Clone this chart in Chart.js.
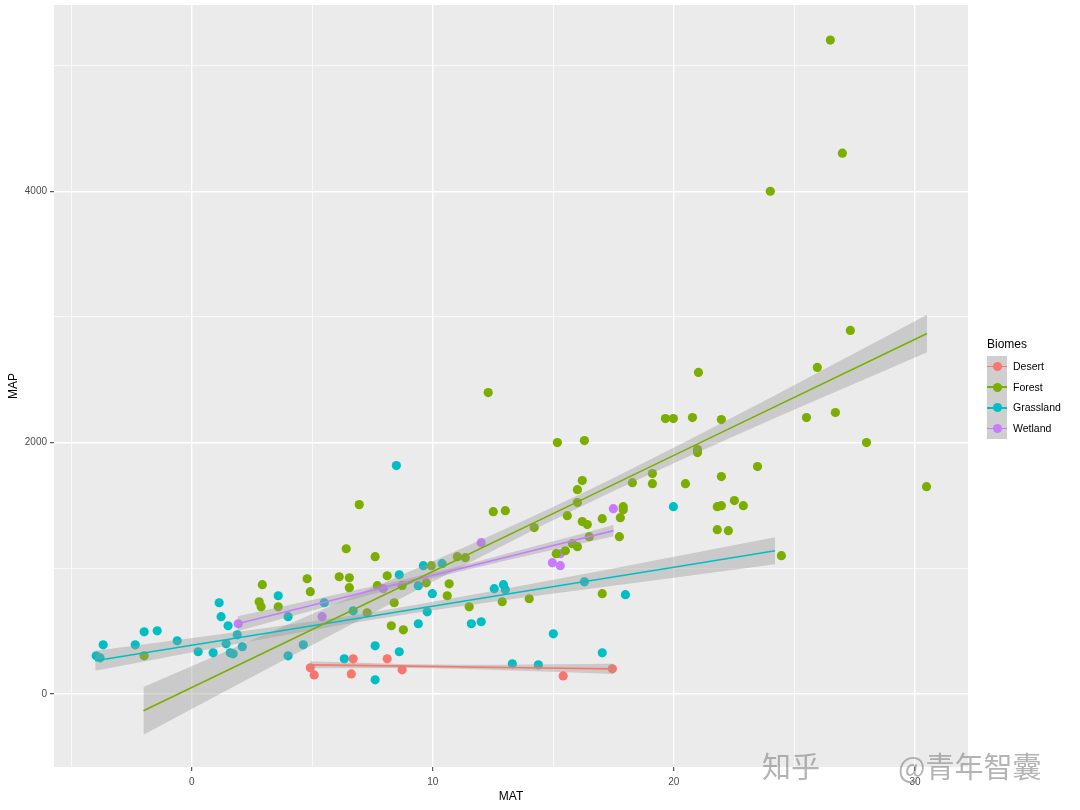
<!DOCTYPE html>
<html><head><meta charset="utf-8">
<script src="https://cdn.jsdelivr.net/npm/chart.js@4.4.1/dist/chart.umd.min.js"></script>
<style>
html,body{margin:0;padding:0;background:#fff;}
#wrap{position:relative;width:1080px;height:810px;overflow:hidden;font-family:"Liberation Sans",Arial,sans-serif;}
#c{position:absolute;left:0;top:0;}
.lg{position:absolute;white-space:nowrap;}
.wm{position:absolute;font-family:"Noto Sans CJK SC",sans-serif;font-size:29px;color:rgba(130,130,130,0.6);line-height:1;white-space:nowrap;}
</style></head>
<body><div id="wrap"><canvas id="c" width="1080" height="810"></canvas>
<div id="legend"></div>
<div class="wm" style="left:762px;top:751px;">知乎</div>
<div class="wm" style="left:898px;top:751px;">@青年智囊</div>
</div>
<script>
// ---- data ----
const biomes = ['Desert', 'Forest', 'Grassland', 'Wetland'];
const biomeColors = ['#F8766D', '#7CAE00', '#00BFC4', '#C77CFF'];
const legendTitle = 'Biomes';
const xTitle = 'MAT';
const yTitle = 'MAP';
const xTickLabels = [0, 10, 20, 30];
const xMinorGrid = [-5, 5, 15, 25];
const yTickLabels = [0, 2000, 4000];
const yMinorGrid = [1000, 3000, 5000];

const desertPts = [[4.92,207],[5.08,151],[6.62,159],[6.70,279],[8.11,279],[8.73,191],[15.41,143],[17.45,199]];
const forestPts = [[-1.97,303],[2.93,869],[2.80,733],[2.88,693],[3.59,693],[4.79,916],[4.92,813],[6.12,932],[6.54,924],[6.54,845],
  [6.41,1155],[6.95,1506],[7.61,1092],[8.11,940],[7.70,861],[8.73,861],[7.28,645],[8.40,725],[8.28,542],[8.78,510],
  [9.94,1020],[9.73,884],[10.68,876],[10.60,781],[11.02,1092],[11.35,1084],[11.51,693],[12.51,1450],[13.01,1458],[12.30,2398],
  [12.88,733],[14.0,757],[14.21,1323],[15.12,1116],[15.50,1139],[15.79,1195],[16.0,1171],[15.17,2000],[16.29,2016],[16.2,1697],
  [16.0,1625],[16.0,1522],[15.58,1418],[16.2,1371],[16.41,1347],[16.49,1251],[17.03,1394],[17.03,797],[17.74,1251],[17.9,1490],
  [17.9,1466],[17.78,1402],[18.28,1681],[19.11,1753],[19.11,1673],[19.65,2191],[19.98,2191],[20.77,2199],[21.97,2183],[21.02,2558],
  [20.98,1944],[20.98,1920],[20.48,1673],[21.97,1729],[21.80,1307],[22.26,1299],[21.80,1490],[21.97,1498],[22.51,1538],[22.88,1498],
  [23.47,1809],[24.46,1100],[24.0,4000],[25.5,2199],[25.95,2598],[26.49,5203],[26.7,2239],[26.99,4303],[27.32,2892],[27.99,2000],[30.48,1649]];
const grasslandPts = [[-3.96,303],[-3.80,287],[-3.67,390],[-2.34,390],[-1.97,494],[-1.43,502],[-0.60,422],[0.27,335],[0.89,327],[1.14,725],
  [1.22,614],[1.51,542],[1.89,470],[1.43,398],[1.60,327],[1.72,319],[2.10,375],[3.59,781],[4.0,614],[4.0,303],
  [4.63,390],[5.50,725],[6.33,279],[6.70,661],[7.61,382],[7.61,112],[8.49,1817],[8.61,948],[8.61,335],[9.40,861],
  [9.40,558],[9.61,1020],[9.77,653],[9.98,797],[10.39,1036],[11.6,558],[12.01,574],[12.55,837],[12.93,869],[13.01,829],
  [13.3,239],[14.38,231],[15.0,478],[16.29,892],[17.03,327],[17.99,789],[19.98,1490]];
const wetlandPts = [[1.93,558],[5.41,614],[7.95,837],[12.01,1203],[14.96,1044],[15.29,1020],[15.29,1116],[17.49,1474]];

// fitted trend lines with confidence band
const desertFitX = [4.9, 9, 13, 17.5];
const desertFitY = [231, 221, 210, 199];
const desertFitLo = [203, 206, 188, 159];
const desertFitHi = [259, 236, 232, 239];
const forestFitX = [-2, 5, 10, 16, 22, 30.5];
const forestFitY = [-135, 512, 974, 1528, 2083, 2868];
const forestFitLo = [-325, 388, 893, 1478, 2008, 2718];
const forestFitHi = [55, 636, 1055, 1578, 2158, 3018];
const grasslandFitX = [-4, 2, 7.75, 14, 20, 24.2];
const grasslandFitY = [263, 449, 628, 822, 1008, 1139];
const grasslandFitLo = [183, 402, 598, 772, 925, 1031];
const grasslandFitHi = [343, 496, 658, 872, 1091, 1247];
const wetlandFitX = [1.9, 6, 10, 14, 17.5];
const wetlandFitY = [558, 753, 943, 1133, 1299];
const wetlandFitLo = [498, 715, 921, 1103, 1254];
const wetlandFitHi = [618, 791, 965, 1163, 1344];

// ---- build ----
const FONT = '"Liberation Sans", Arial, sans-serif';
const series = [
  {pts: desertPts, fx: desertFitX, fy: desertFitY, lo: desertFitLo, hi: desertFitHi},
  {pts: forestPts, fx: forestFitX, fy: forestFitY, lo: forestFitLo, hi: forestFitHi},
  {pts: grasslandPts, fx: grasslandFitX, fy: grasslandFitY, lo: grasslandFitLo, hi: grasslandFitHi},
  {pts: wetlandPts, fx: wetlandFitX, fy: wetlandFitY, lo: wetlandFitLo, hi: wetlandFitHi}
];
const datasets = [];
series.forEach((s, i) => {
  datasets.push({label: biomes[i], data: s.pts.map(p => ({x: p[0], y: p[1]})), backgroundColor: biomeColors[i],
    borderWidth: 0, pointRadius: 4.6, pointHoverRadius: 4.6, showLine: false, order: 3});
  datasets.push({label: biomes[i] + ' hi', data: s.fx.map((x, k) => ({x, y: s.hi[k]})), showLine: true, pointRadius: 0,
    borderWidth: 0, borderColor: 'rgba(0,0,0,0)', fill: false, cubicInterpolationMode: 'monotone', order: 2});
  datasets.push({label: biomes[i] + ' lo', data: s.fx.map((x, k) => ({x, y: s.lo[k]})), showLine: true, pointRadius: 0,
    borderWidth: 0, borderColor: 'rgba(0,0,0,0)', fill: '-1', backgroundColor: 'rgba(153,153,153,0.4)',
    cubicInterpolationMode: 'monotone', order: 2});
  datasets.push({label: biomes[i] + ' fit', data: s.fx.map((x, k) => ({x, y: s.fy[k]})), showLine: true, pointRadius: 0,
    borderWidth: 1.6, borderColor: biomeColors[i], fill: false, tension: 0, order: 1});
});

const panelBg = {
  id: 'panelBg',
  beforeDraw(chart) {
    const {ctx, chartArea: a} = chart;
    ctx.save();
    ctx.fillStyle = '#EBEBEB';
    ctx.fillRect(a.left, a.top, a.right - a.left, a.bottom - a.top);
    ctx.restore();
  }
};

new Chart(document.getElementById('c'), {
  type: 'scatter',
  data: {datasets},
  plugins: [panelBg],
  options: {
    responsive: false, animation: false, devicePixelRatio: 1,
    layout: {padding: {left: 0, top: 5, right: 112, bottom: 0}},
    plugins: {legend: {display: false}, tooltip: {enabled: false}},
    scales: {
      x: {
        type: 'linear', min: -5.71, max: 32.2,
        afterBuildTicks: s => { s.ticks = xMinorGrid.concat(xTickLabels).sort((a, b) => a - b).map(v => ({value: v})); },
        afterFit: s => { s.height = 43; s.paddingLeft = 0; s.paddingRight = 0; },
        ticks: {callback: v => xTickLabels.includes(v) ? String(v) : '', color: '#4D4D4D',
          font: {size: 10, family: FONT}, padding: 5, maxRotation: 0, autoSkip: false},
        grid: {color: '#FFFFFF', lineWidth: c => xTickLabels.includes(c.tick && c.tick.value) ? 1.4 : 0.7,
          drawTicks: true, tickLength: 4, tickWidth: 1,
          tickColor: c => xTickLabels.includes(c.tick && c.tick.value) ? '#333333' : 'rgba(0,0,0,0)'},
        border: {display: false},
        title: {display: true, text: xTitle, color: '#000', font: {size: 12, family: FONT}, padding: {top: 0, bottom: 6}}
      },
      y: {
        type: 'linear', min: -582, max: 5482,
        afterBuildTicks: s => { s.ticks = yMinorGrid.concat(yTickLabels).sort((a, b) => a - b).map(v => ({value: v})); },
        afterFit: s => { s.width = 54; s.paddingTop = 0; s.paddingBottom = 0; },
        ticks: {callback: v => yTickLabels.includes(v) ? String(v) : '', color: '#4D4D4D',
          font: {size: 10, family: FONT}, padding: 3, autoSkip: false},
        grid: {color: '#FFFFFF', lineWidth: c => yTickLabels.includes(c.tick && c.tick.value) ? 1.4 : 0.7,
          drawTicks: true, tickLength: 4, tickWidth: 1,
          tickColor: c => yTickLabels.includes(c.tick && c.tick.value) ? '#333333' : 'rgba(0,0,0,0)'},
        border: {display: false},
        title: {display: true, text: yTitle, color: '#000', font: {size: 12, family: FONT}, padding: {top: 6, bottom: 0}}
      }
    }
  }
});

// ---- legend (HTML) ----
const lg = document.getElementById('legend');
let html = `<div class="lg" style="left:987px;top:337px;font-size:12px;color:#000;">${legendTitle}</div>`;
biomes.forEach((b, i) => {
  const top = 356 + i * 20.7;
  html += `<div class="lg" style="left:987px;top:${top}px;width:20px;height:20.7px;background:#CFCFCF;"></div>`;
  html += `<div class="lg" style="left:987px;top:${top + 9.6}px;width:20px;height:1.6px;background:${biomeColors[i]};"></div>`;
  html += `<div class="lg" style="left:${997 - 4.5}px;top:${top + 10.35 - 4.5}px;width:9px;height:9px;border-radius:50%;background:${biomeColors[i]};"></div>`;
  html += `<div class="lg" style="left:1013px;top:${top + 4}px;font-size:10.5px;line-height:12px;color:#000;">${b}</div>`;
});
lg.innerHTML = html;
</script>
</body></html>
